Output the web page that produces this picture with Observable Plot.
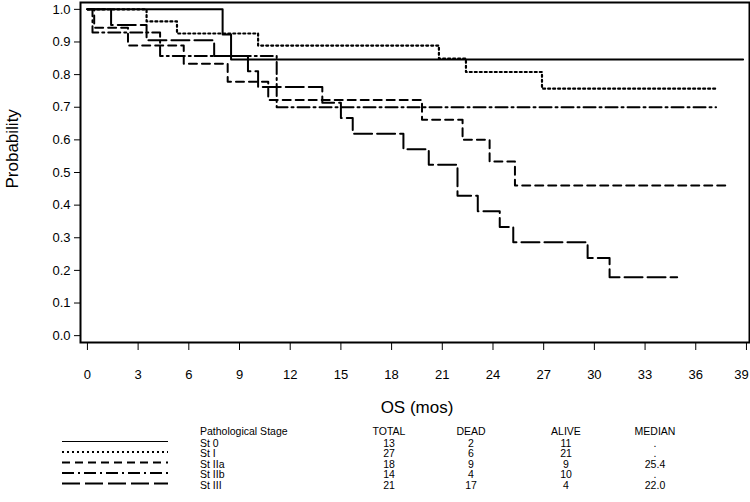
<!DOCTYPE html>
<html>
<head>
<meta charset="utf-8">
<script src="https://cdn.jsdelivr.net/npm/d3@7"></script>
<script src="https://cdn.jsdelivr.net/npm/@observablehq/plot@0.6"></script>
<style>
  body { margin: 0; background: #fff; }
  #chart { width: 750px; }
</style>
</head>
<body>
<div id="chart"></div>
<script>
// ---- data ----
const stages = ["St 0", "St I", "St IIa", "St IIb", "St III"];
const totals = [13, 27, 18, 14, 21];
const deadCounts = [2, 6, 9, 4, 17];
const aliveCounts = [11, 21, 9, 10, 4];
const medians = [".", ".", "25.4", ".", "22.0"];
const tableHeader = ["Pathological Stage", "TOTAL", "DEAD", "ALIVE", "MEDIAN"];

const st0Time = [0, 8.0, 8.5, 38.8];
const st0Surv = [1, 0.923, 0.846, 0.846];
const st1Time = [0, 3.5, 5.3, 10.1, 20.8, 22.4, 26.9, 37.2];
const st1Surv = [1, 0.963, 0.926, 0.889, 0.849, 0.808, 0.757, 0.757];
const st2aTime = [0, 0.4, 2.4, 5.7, 8.3, 10.7, 19.8, 22.2, 23.8, 25.3, 37.9];
const st2aSurv = [1, 0.944, 0.889, 0.833, 0.778, 0.722, 0.662, 0.600, 0.534, 0.460, 0.460];
const st2bTime = [0, 0.3, 4.3, 11.2, 37.2];
const st2bSurv = [1, 0.929, 0.857, 0.700, 0.700];
const st3Time = [0, 1.4, 3.5, 7.5, 9.5, 10.1, 13.9, 15.0, 15.7, 18.7, 20.2, 21.9, 23.1, 24.4, 25.2, 29.6, 30.9, 34.9];
const st3Surv = [1, 0.952, 0.905, 0.857, 0.810, 0.762, 0.714, 0.667, 0.619, 0.571, 0.524, 0.429, 0.381, 0.333, 0.286, 0.238, 0.179, 0.179];

const xTicks = [0, 3, 6, 9, 12, 15, 18, 21, 24, 27, 30, 33, 36, 39];
const yTicks = [0, 0.1, 0.2, 0.3, 0.4, 0.5, 0.6, 0.7, 0.8, 0.9, 1.0];
const xLabel = "OS (mos)";
const yLabel = "Probability";

// ---- styles ----
const dashStyles = ["none", "2,3", "8,5", "12,4,2,4", "18,5"];
const curveTimes = [st0Time, st1Time, st2aTime, st2bTime, st3Time];
const curveSurv = [st0Surv, st1Surv, st2aSurv, st2bSurv, st3Surv];

const series = stages.map((s, i) => curveTimes[i].map((t, j) => ({stage: s, t, p: curveSurv[i][j]})));

const FONT = '"Liberation Sans", Arial, sans-serif';
const lastTick = xTicks[xTicks.length - 1];

const plot = Plot.plot({
  width: 750,
  height: 420,
  marginLeft: 80,
  marginRight: 1,
  marginTop: 2,
  marginBottom: 78,
  style: {fontFamily: FONT, fontSize: "13px", color: "black", background: "white"},
  x: {domain: [-0.41, 39.18]},
  y: {domain: [-0.021, 1.021]},
  marks: [
    ...series.map((d, i) => Plot.line(d, {
      x: "t", y: "p", curve: "step-after", stroke: "black",
      strokeWidth: i === 1 ? 2.2 : 2, strokeDasharray: dashStyles[i] === "none" ? null : dashStyles[i]
    })),
    Plot.frame({stroke: "black", strokeWidth: 2}),
    Plot.axisY(yTicks, {tickFormat: d3.format(".1f"), tickSize: 6, tickPadding: 4, label: null}),
    Plot.axisX(xTicks, {tickSize: 8, tickPadding: 19, label: null, tickFormat: d => d === lastTick ? "" : String(d)}),
    Plot.axisX([lastTick], {tickSize: 0, tickPadding: 27, dx: -5, label: null}),
    Plot.text([yLabel], {frameAnchor: "left", rotate: -90, dx: -68, dy: 16, fontSize: 17}),
    Plot.text([xLabel], {frameAnchor: "bottom", dy: 70, dx: 2, fontSize: 17})
  ]
});
document.getElementById("chart").appendChild(plot);

// ---- legend table below ----
const leg = d3.select("#chart").append("svg")
  .attr("width", 750).attr("height", 82)
  .style("display", "block")
  .style("font-family", FONT).style("font-size", "10.5px");
const rowY = [23, 33.5, 44, 54.5, 65];
const headY = 11;
const colX = [200, 389, 471, 566, 655];
tableHeader.forEach((h, i) => {
  leg.append("text").attr("x", colX[i]).attr("y", headY).attr("dy", "0.35em")
    .attr("text-anchor", i === 0 ? "start" : "middle").text(h);
});
stages.forEach((s, i) => {
  const y = rowY[i];
  leg.append("line").attr("x1", 62).attr("x2", 168).attr("y1", y - 1.5).attr("y2", y - 1.5)
    .attr("stroke", "black").attr("stroke-width", i === 0 ? 1 : 2)
    .attr("stroke-dasharray", dashStyles[i] === "none" ? null : dashStyles[i]);
  const vals = [s, totals[i], deadCounts[i], aliveCounts[i], medians[i]];
  vals.forEach((v, k) => {
    leg.append("text").attr("x", colX[k]).attr("y", y).attr("dy", "0.35em")
      .attr("text-anchor", k === 0 ? "start" : "middle").text(v);
  });
});
</script>
</body>
</html>
